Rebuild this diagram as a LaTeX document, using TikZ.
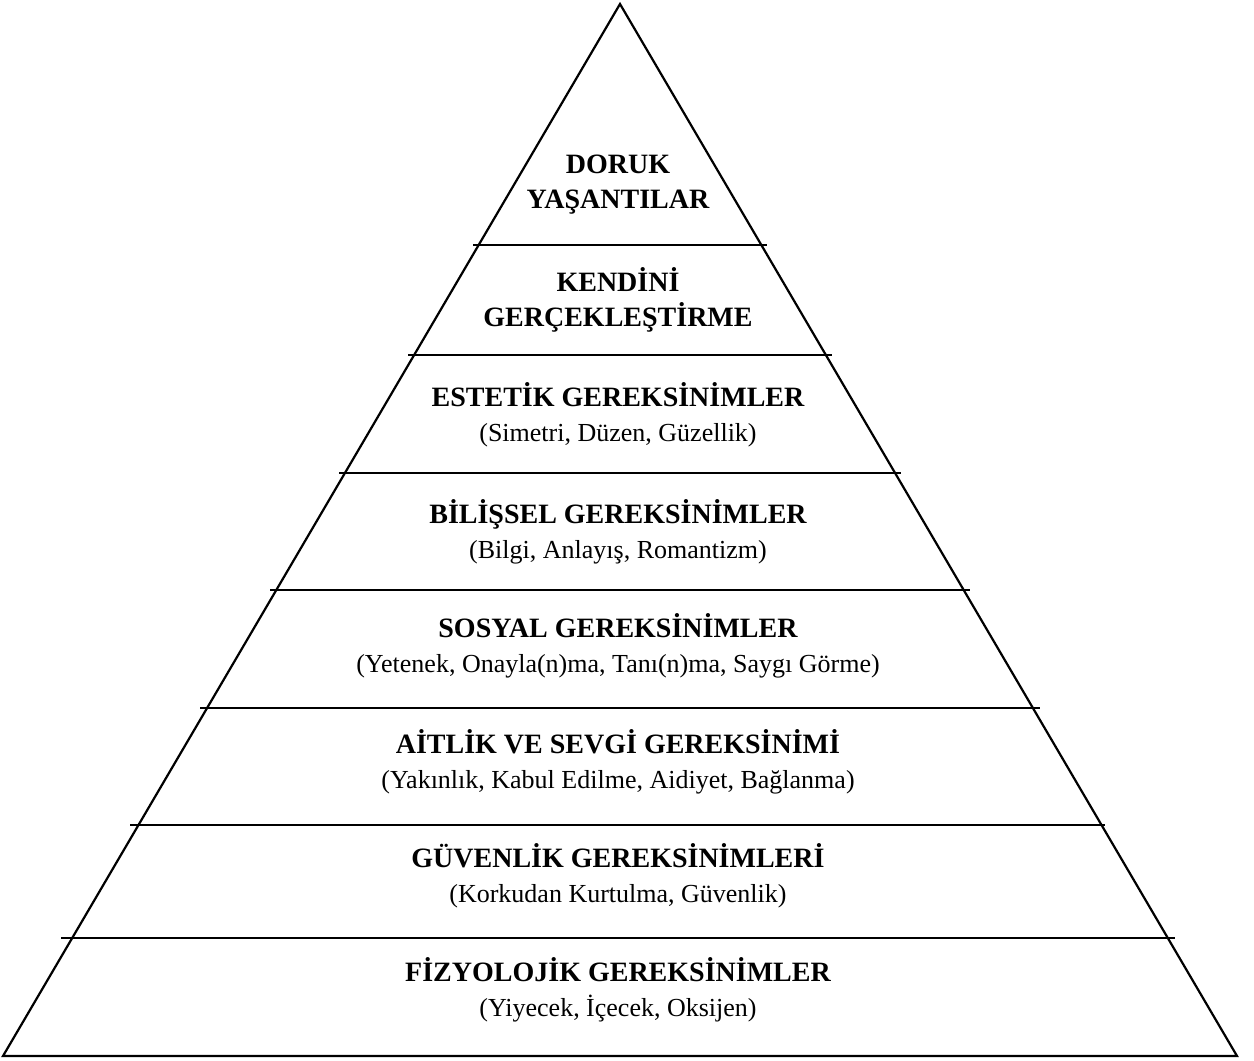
\documentclass[tikz,border=0pt]{standalone}
\usepackage{fontspec}
\setmainfont{Liberation Serif}[BoldFont={Liberation Serif Bold}]
\usepackage{tikz}

\newcommand{\lvltitle}[1]{{\fontsize{14}{17.5}\selectfont\bfseries #1}}
\tikzset{
  level/.style={align=center, font=\fontsize{13}{17.5}\selectfont},
}

\begin{document}
\begin{tikzpicture}[x=0.5pt, y=-0.5pt, line width=1.1pt]
\useasboundingbox (0,0) rectangle (1254,1061);

% pyramid outline
\coordinate (apex) at (620,4);
\coordinate (bl) at (3,1056);
\coordinate (br) at (1237,1056);
\draw (bl) -- (apex) -- (br) -- cycle;

% level separators
\draw (473,245) -- (767,245);
\draw (408,355) -- (832,355);
\draw (339,473) -- (901,473);
\draw (270,590) -- (970,590);
\draw (200,708) -- (1040,708);
\draw (130,825) -- (1105,825);
\draw (61,938) -- (1175,938);

% level texts
\node[level] (doruk) at (618,185) {\lvltitle{DORUK}\\\lvltitle{YAŞANTILAR}};
\node[level] (kendini) at (618,300) {\lvltitle{KENDİNİ}\\\lvltitle{GERÇEKLEŞTİRME}};
\node[level] (estetik) at (618,415) {\lvltitle{ESTETİK GEREKSİNİMLER}\\(Simetri, Düzen, Güzellik)};
\node[level] (bilissel) at (618,532) {\lvltitle{BİLİŞSEL GEREKSİNİMLER}\\(Bilgi, Anlayış, Romantizm)};
\node[level] (sosyal) at (618,646) {\lvltitle{SOSYAL GEREKSİNİMLER}\\(Yetenek, Onayla(n)ma, Tanı(n)ma, Saygı Görme)};
\node[level] (aitlik) at (618,762) {\lvltitle{AİTLİK VE SEVGİ GEREKSİNİMİ}\\(Yakınlık, Kabul Edilme, Aidiyet, Bağlanma)};
\node[level] (guvenlik) at (618,876) {\lvltitle{GÜVENLİK GEREKSİNİMLERİ}\\(Korkudan Kurtulma, Güvenlik)};
\node[level] (fizyolojik) at (618,990) {\lvltitle{FİZYOLOJİK GEREKSİNİMLER}\\(Yiyecek, İçecek, Oksijen)};
\end{tikzpicture}
\end{document}
